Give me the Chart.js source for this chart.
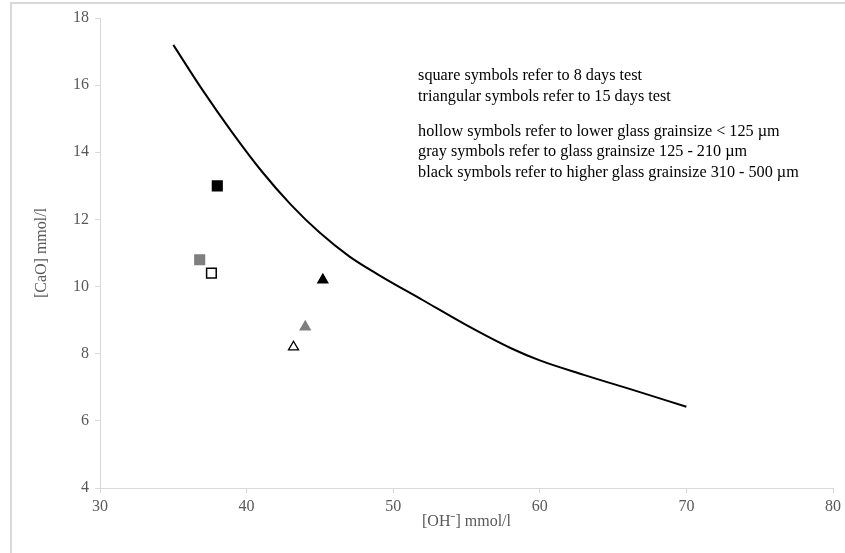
<!DOCTYPE html>
<html>
<head>
<meta charset="utf-8">
<script src="https://cdn.jsdelivr.net/npm/chart.js@4/dist/chart.umd.min.js"></script>
<style>
    html, body { margin: 0; padding: 0; background: #fff; }
    #wrap { position: relative; width: 845px; height: 553px; }
    #frame { position: absolute; left: 10px; top: 2px; right: 0; bottom: 0; border-left: 2px solid #d9d9d9; border-top: 2px solid #d9d9d9; }
    canvas { position: absolute; left: 0; top: 0; }
</style>
</head>
<body>
<div id="wrap">
    <div id="frame"></div>
    <canvas id="caoChart" width="845" height="553"></canvas>
</div>
<script>
Chart.defaults.font.family = '"Liberation Serif", "Times New Roman", serif'
Chart.defaults.font.size = 16
Chart.defaults.color = '#595959'

// limit curve [OH-] vs [CaO]
const curveOH  = [35.0, 37.0, 39.0, 41.0, 43.0, 45.0, 47.0, 49.0, 52.0, 55.0, 58.0, 60.0, 63.0, 66.5, 70.0]
const curveCaO = [17.2, 15.85, 14.6, 13.45, 12.45, 11.6, 10.9, 10.35, 9.6, 8.85, 8.17, 7.8, 7.37, 6.9, 6.42]

// hollow, gray, black (grain size classes)
const symbolFills = ['#ffffff', '#7f7f7f', '#000000']
const symbolBorders = ['#000000', '#7f7f7f', '#000000']

// 8 days test
const squareOH  = [37.6, 36.8, 38.0]
const squareCaO = [10.4, 10.8, 13.0]

// 15 days test
const triangleOH  = [43.2, 44.0, 45.2]
const triangleCaO = [8.2, 8.8, 10.2]

const noteLines = [
    'square symbols refer to 8 days test',
    'triangular symbols refer to 15 days test',
    '',
    'hollow symbols refer to lower glass grainsize < 125 µm',
    'gray symbols refer to glass grainsize 125 - 210 µm',
    'black symbols refer to higher glass grainsize 310 - 500 µm'
]

const toPoints = (xs, ys) => xs.map((x, i) => ({ x, y: ys[i] }))

// text block in the upper right, blank entries give a shorter gap
const notesPlugin = {
    id: 'notes',
    afterDraw(chart) {
        const { ctx, scales } = chart
        const left = scales.x.getPixelForValue(51.7)
        let y = scales.y.getPixelForValue(16.28)
        ctx.save()
        ctx.fillStyle = '#000'
        ctx.font = '16.2px "Liberation Serif", "Times New Roman", serif'
        ctx.textBaseline = 'middle'
        noteLines.forEach(line => {
            if (line === '') {
                y += 14.4
                return
            }
            ctx.fillText(line, left, y)
            y += 20.6
        })
        ctx.restore()
    }
}

const axisColor = '#d9d9d9'

new Chart('caoChart', {
    type: 'scatter',
    data: {
        datasets: [
            {
                type: 'line',
                data: toPoints(curveOH, curveCaO),
                borderColor: '#000',
                borderWidth: 2,
                pointRadius: 0,
                cubicInterpolationMode: 'monotone',
                fill: false
            },
            {
                data: toPoints(squareOH, squareCaO),
                pointStyle: 'rect',
                pointRadius: 6.8,
                pointBackgroundColor: symbolFills,
                pointBorderColor: symbolBorders,
                pointBorderWidth: 1.5
            },
            {
                data: toPoints(triangleOH, triangleCaO),
                pointStyle: 'triangle',
                pointRadius: 5.8,
                pointBackgroundColor: symbolFills,
                pointBorderColor: symbolBorders,
                pointBorderWidth: 1.3
            }
        ]
    },
    options: {
        responsive: false,
        animation: false,
        layout: { padding: { left: 12, top: 18, right: 9, bottom: 0 } },
        plugins: {
            legend: { display: false },
            tooltip: { enabled: false }
        },
        scales: {
            x: {
                min: 30,
                max: 80,
                ticks: { stepSize: 10, padding: 4 },
                grid: { drawOnChartArea: false, color: axisColor, tickLength: 5 },
                border: { color: axisColor },
                title: { display: true, text: '[OH⁻] mmol/l', color: '#595959', padding: { top: 0, bottom: 22 } },
                afterFit: scale => { scale.height = 65 }
            },
            y: {
                min: 4,
                max: 18,
                ticks: { stepSize: 2, padding: 6 },
                grid: { drawOnChartArea: false, color: axisColor, tickLength: 5 },
                border: { color: axisColor },
                title: { display: true, text: '[CaO] mmol/l', color: '#595959', padding: { top: 20, bottom: 0 } },
                afterFit: scale => { scale.width = 88 }
            }
        }
    },
    plugins: [notesPlugin]
})
</script>
</body>
</html>
